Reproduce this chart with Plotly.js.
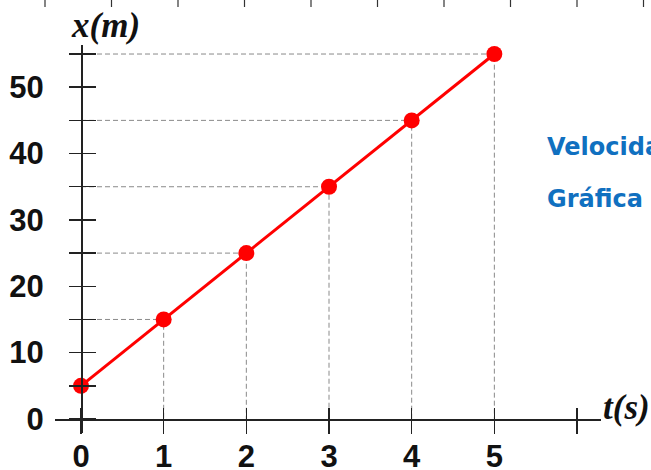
<!DOCTYPE html>
<html>
<head>
<meta charset="utf-8">
<script src="https://cdn.plot.ly/plotly-3.0.1.min.js"></script>
<style>html,body{margin:0;padding:0;background:#fff;}#chart{width:651px;height:470px;}</style>
</head>
<body>
<div id="chart"></div>
<script>
// ---- data ----
const tValues = [0, 1, 2, 3, 4, 5];            // t (s)
const xValues = [5, 15, 25, 35, 45, 55];       // x (m)
const tTickVals = [0, 1, 2, 3, 4, 5, 6];
const tTickText = ['0', '1', '2', '3', '4', '5', ''];
const xTickVals = [0, 5, 10, 15, 20, 25, 30, 35, 40, 45, 50, 55];
const xTickText = ['0', '', '10', '', '20', '', '30', '', '40', '', '50', ''];
const sideTexts = ['Velocida', 'Gráfica'];
const xTitle = 'x(m)';
const tTitle = 't(s)';

// ---- layout geometry (pixels in a 651x470 figure) ----
const W = 651, H = 470;
const px = v => v / W, py = v => (H - v) / H;
const xRange = [-0.3145, 6.290];
const yRange = [-2.11, 56.36];
const xDomain = [px(55), px(601)];
const yDomain = [py(433), py(45)];
const xAxisPos = py(419);
const yAxisPos = px(81);

const tickFont = {family: 'Liberation Sans, Arial, sans-serif', size: 31, color: '#111', weight: 700};
const axisTitleFont = {family: 'Liberation Serif, Times New Roman, serif', size: 35, color: '#111', weight: 700, style: 'italic'};
const blueFont = {family: 'DejaVu Sans, Verdana, sans-serif', size: 24, color: '#1070C0', weight: 700};

const traces = [];
// dashed guide lines (from data)
const gx = [], gy = [];
for (let i = 0; i < tValues.length; i++) {
  if (tValues[i] === 0) continue;
  gx.push(0, tValues[i], tValues[i], null);
  gy.push(xValues[i], xValues[i], 0, null);
}
traces.push({type: 'scatter', mode: 'lines', x: gx, y: gy, line: {color: '#8a8a8a', width: 1, dash: '5px,3px'}, hoverinfo: 'skip', showlegend: false});
// main line + markers
traces.push({type: 'scatter', mode: 'lines+markers', x: tValues, y: xValues,
  line: {color: '#ff0000', width: 3}, marker: {color: '#ff0000', size: 16}, showlegend: false});
// helper traces for overlay axes (other half of crossing ticks)
traces.push({type: 'scatter', x: [], y: [], xaxis: 'x2', yaxis: 'y', showlegend: false});
traces.push({type: 'scatter', x: [], y: [], xaxis: 'x', yaxis: 'y2', showlegend: false});

const shapes = [];
// decorative tick marks along the top edge (remnant of cropped drawing)
for (let k = 0; k < 10; k++) {
  const xp = px(45 + 66.5 * k);
  shapes.push({type: 'line', xref: 'paper', yref: 'paper', x0: xp, x1: xp, y0: 1, y1: py(7), line: {color: '#333', width: 1.2}});
}

const layout = {
  width: W, height: H,
  margin: {l: 0, r: 0, t: 0, b: 0, pad: 0},
  paper_bgcolor: '#fff', plot_bgcolor: 'rgba(0,0,0,0)',
  showlegend: false,
  xaxis: {domain: xDomain, range: xRange, anchor: 'free', position: xAxisPos,
    showgrid: false, zeroline: false, showline: true, linecolor: '#222', linewidth: 1.5,
    tickmode: 'array', tickvals: tTickVals, ticktext: tTickText,
    ticks: 'inside', ticklen: 11, tickwidth: 1.5, tickcolor: '#222',
    tickfont: tickFont, ticklabelstandoff: 9, fixedrange: true},
  xaxis2: {overlaying: 'x', range: xRange, anchor: 'free', position: xAxisPos,
    showgrid: false, zeroline: false, showline: false,
    tickmode: 'array', tickvals: tTickVals, showticklabels: false,
    ticks: 'outside', ticklen: 14, tickwidth: 1.5, tickcolor: '#222'},
  yaxis: {domain: yDomain, range: yRange, anchor: 'free', position: yAxisPos,
    showgrid: false, zeroline: false, showline: true, linecolor: '#222', linewidth: 1.5,
    tickmode: 'array', tickvals: xTickVals, ticktext: xTickText,
    ticks: 'outside', ticklen: 12, tickwidth: 1.5, tickcolor: '#222',
    tickfont: tickFont, ticklabelstandoff: 19, fixedrange: true},
  yaxis2: {overlaying: 'y', range: yRange, anchor: 'free', position: yAxisPos,
    showgrid: false, zeroline: false, showline: false,
    tickmode: 'array', tickvals: xTickVals, showticklabels: false,
    ticks: 'inside', ticklen: 14, tickwidth: 1.5, tickcolor: '#222'},
  shapes: shapes,
  annotations: [
    {text: xTitle, xref: 'paper', yref: 'paper', x: px(105), y: py(26), xanchor: 'center', yanchor: 'middle', showarrow: false, font: axisTitleFont},
    {text: tTitle, xref: 'paper', yref: 'paper', x: px(601), y: py(407), xanchor: 'left', yanchor: 'middle', showarrow: false, font: axisTitleFont},
    {text: sideTexts[0], xref: 'paper', yref: 'paper', x: px(545), y: py(147), xanchor: 'left', yanchor: 'middle', showarrow: false, font: blueFont},
    {text: sideTexts[1], xref: 'paper', yref: 'paper', x: px(545), y: py(199), xanchor: 'left', yanchor: 'middle', showarrow: false, font: blueFont}
  ]
};

Plotly.newPlot('chart', traces, layout, {displayModeBar: false, staticPlot: true});
</script>
</body>
</html>
